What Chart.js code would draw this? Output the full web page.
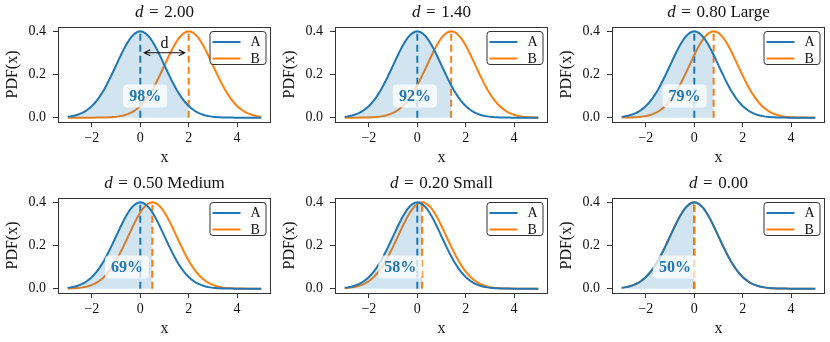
<!DOCTYPE html>
<html><head><meta charset="utf-8">
<script src="https://cdn.jsdelivr.net/npm/chart.js@4.4.1/dist/chart.umd.min.js"></script>
<style>
html,body{margin:0;padding:0;background:#fff;overflow:hidden;}
#wrap{position:relative;width:830px;height:342px;}
.cell{position:absolute;width:276px;height:171px;}
canvas{display:block;}
</style></head><body><div id="wrap"></div>
<script>
// ---- data ----
const effectSizes = [2.00, 1.40, 0.80, 0.50, 0.20, 0.00];
const sizeNames = ['', '', 'Large', 'Medium', 'Small', ''];
const overlapLabels = ['98%', '92%', '79%', '69%', '58%', '50%'];
const seriesNames = ['A', 'B'];
const xTicks = [-2, 0, 2, 4];
const yTicks = [0.0, 0.2, 0.4];
// curve height read at distance 0.0, 0.1, ..., 5.0 from the curve's peak
const densityByDistance = [
  0.3989, 0.3970, 0.3910, 0.3814, 0.3683, 0.3521, 0.3332, 0.3123, 0.2897, 0.2661,
  0.2420, 0.2179, 0.1942, 0.1714, 0.1497, 0.1295, 0.1109, 0.0940, 0.0790, 0.0656,
  0.0540, 0.0440, 0.0355, 0.0283, 0.0224, 0.0175, 0.0136, 0.0104, 0.0079, 0.0060,
  0.0044, 0.0033, 0.0024, 0.0017, 0.0012, 0.0009, 0.0006, 0.0004, 0.0003, 0.0002,
  0.0001, 0.0001, 0.0001, 0.0000, 0.0000, 0.0000, 0.0000, 0.0000, 0.0000, 0.0000, 0.0000];
const xTenthsRange = [-30, 50]; // curves drawn from x = -3 to x = 5 in 0.1 steps

// ---- style ----
const BLUE = '#1f77b4', ORANGE = '#ff7f0e', INK = '#333333';
const SERIF = "'Liberation Serif', 'Times New Roman', serif";

function fmtX(v){ return v < 0 ? '\u2212' + Math.abs(v) : String(v); }

const framePlugin = {
  id: 'frame',
  afterDatasetsDraw(chart, args, opts) {
    const {ctx, chartArea: a, scales: {x, y}} = chart;
    const d = opts.d, idx = opts.idx;
    ctx.save();
    // annotation arrow (first panel)
    if (opts.arrow) {
      const ay = y.getPixelForValue(0.3);
      const x0 = x.getPixelForValue(0) + 4, x1 = x.getPixelForValue(d) - 4;
      ctx.strokeStyle = '#111'; ctx.lineWidth = 1.1;
      ctx.beginPath(); ctx.moveTo(x0, ay); ctx.lineTo(x1, ay);
      ctx.moveTo(x0 + 6, ay - 3); ctx.lineTo(x0, ay); ctx.lineTo(x0 + 6, ay + 3);
      ctx.moveTo(x1 - 6, ay - 3); ctx.lineTo(x1, ay); ctx.lineTo(x1 - 6, ay + 3);
      ctx.stroke();
      ctx.fillStyle = '#111'; ctx.font = '16px ' + SERIF;
      ctx.textAlign = 'center'; ctx.textBaseline = 'alphabetic';
      ctx.fillText('d', x.getPixelForValue(d / 2), ay - 4.5);
    }
    // percentage label
    const lx = x.getPixelForValue(d / 2 - 0.8), ly = y.getPixelForValue(0.1);
    ctx.font = 'bold 16px ' + SERIF;
    const tw = ctx.measureText(overlapLabels[idx]).width;
    const bw = tw + 12, bh = 23;
    ctx.fillStyle = 'rgba(255,255,255,0.75)';
    ctx.beginPath(); ctx.roundRect(lx - bw / 2, ly - bh / 2, bw, bh, 4); ctx.fill();
    ctx.fillStyle = BLUE; ctx.textAlign = 'center'; ctx.textBaseline = 'middle';
    ctx.fillText(overlapLabels[idx], lx, ly + 1);
    ctx.restore();
  },
  afterDraw(chart, args, opts) {
    const {ctx, chartArea: a} = chart;
    ctx.save();
    // axes frame
    ctx.strokeStyle = INK; ctx.lineWidth = 1;
    ctx.strokeRect(Math.round(a.left) + 0.5, Math.round(a.top) + 0.5,
      Math.round(a.right - a.left) - 1, Math.round(a.bottom - a.top));
    // legend
    const bwid = 56, bhei = 33;
    const bl = a.right - 5.5 - bwid, bt = a.top + 4;
    ctx.fillStyle = 'rgba(255,255,255,0.85)';
    ctx.strokeStyle = INK; ctx.lineWidth = 1;
    ctx.beginPath(); ctx.roundRect(bl + 0.5, bt + 0.5, bwid, bhei, 3); ctx.fill(); ctx.stroke();
    const cols = [BLUE, ORANGE];
    ctx.font = '14px ' + SERIF; ctx.textAlign = 'left'; ctx.textBaseline = 'middle';
    seriesNames.forEach((nm, k) => {
      const ry = bt + 11 + k * 16.5;
      ctx.strokeStyle = cols[k]; ctx.lineWidth = 2;
      ctx.beginPath(); ctx.moveTo(bl + 3, ry); ctx.lineTo(bl + 31, ry); ctx.stroke();
      ctx.fillStyle = '#111';
      ctx.fillText(nm, bl + 41, ry + 0.5);
    });
    // title with italic d
    const cx = (a.left + a.right) / 2, ty = 13;
    const rest = effectSizes[opts.idx].toFixed(2) + (sizeNames[opts.idx] ? ' ' + sizeNames[opts.idx] : '');
    ctx.fillStyle = '#111'; ctx.textBaseline = 'middle';
    ctx.font = 'italic 17px ' + SERIF; const w1 = ctx.measureText('d').width;
    ctx.font = '17px ' + SERIF; const w2 = ctx.measureText('=').width, w3 = ctx.measureText(rest).width;
    const gap = 5.5;
    let sx = cx - (w1 + w2 + w3 + 2 * gap) / 2;
    ctx.textAlign = 'left';
    ctx.font = 'italic 17px ' + SERIF; ctx.fillText('d', sx, ty); sx += w1 + gap;
    ctx.font = '17px ' + SERIF; ctx.fillText('=', sx, ty); sx += w2 + gap;
    ctx.fillText(rest, sx, ty);
    ctx.restore();
  }
};

const wrap = document.getElementById('wrap');
effectSizes.forEach((d, idx) => {
  const col = idx % 3, row = Math.floor(idx / 3);
  const cell = document.createElement('div');
  cell.className = 'cell';
  cell.style.left = (col * 277) + 'px';
  cell.style.top = (row * 171) + 'px';
  const cv = document.createElement('canvas');
  cv.width = 276; cv.height = 171;
  cell.appendChild(cv); wrap.appendChild(cell);

  const dT = Math.round(d * 10);
  const tenths = [];
  for (let t = xTenthsRange[0]; t <= xTenthsRange[1]; t++) tenths.push(t);
  const curveA = tenths.map(t => ({x: t / 10, y: densityByDistance[Math.abs(t)]}));
  const curveB = tenths.map(t => ({x: t / 10, y: densityByDistance[Math.abs(t - dT)]}));
  const shade = curveA.filter((p, k) => tenths[k] <= dT);
  const peak = densityByDistance[0];

  new Chart(cv, {
    type: 'line',
    data: {
      datasets: [
        {data: shade, fill: 'origin', backgroundColor: 'rgba(31,119,180,0.2)',
         borderColor: 'rgba(0,0,0,0)', borderWidth: 0, pointRadius: 0},
        {label: seriesNames[0], data: curveA, borderColor: BLUE, borderWidth: 2, pointRadius: 0, fill: false},
        {label: seriesNames[1], data: curveB, borderColor: ORANGE, borderWidth: 2, pointRadius: 0, fill: false},
        {data: [{x: d, y: 0}, {x: d, y: peak}], borderColor: ORANGE, borderWidth: 2,
         borderDash: [7, 4], pointRadius: 0, fill: false},
        {data: [{x: 0, y: 0}, {x: 0, y: peak}], borderColor: BLUE, borderWidth: 2,
         borderDash: [7, 4], pointRadius: 0, fill: false}
      ]
    },
    options: {
      responsive: false, animation: false, devicePixelRatio: 1,
      layout: {padding: {top: 27, right: 5, bottom: 0, left: 0}},
      plugins: {legend: {display: false}, tooltip: {enabled: false},
        frame: {d: d, idx: idx, arrow: idx === 0}},
      scales: {
        x: {type: 'linear', min: -3.4, max: 5.4,
          afterBuildTicks: s => { s.ticks = xTicks.map(v => ({value: v})); },
          afterFit: s => { s.height = 49; },
          grid: {display: true, drawOnChartArea: false, drawTicks: true, tickLength: 5, color: INK},
          border: {display: false},
          ticks: {color: '#111', font: {family: SERIF, size: 14}, padding: 3, maxRotation: 0,
            callback: v => fmtX(v)},
          title: {display: true, text: 'x', color: '#111', font: {family: SERIF, size: 16},
            padding: {top: 0, bottom: 4}}
        },
        y: {type: 'linear', min: -0.02, max: 0.419,
          afterBuildTicks: s => { s.ticks = yTicks.map(v => ({value: v})); },
          afterFit: s => { s.width = 58; },
          grid: {display: true, drawOnChartArea: false, drawTicks: true, tickLength: 5, color: INK},
          border: {display: false},
          ticks: {color: '#111', font: {family: SERIF, size: 14}, padding: 7,
            callback: v => v.toFixed(1)},
          title: {display: true, text: 'PDF(x)', color: '#111', font: {family: SERIF, size: 16},
            padding: {top: 3, bottom: 0}}
        }
      }
    },
    plugins: [framePlugin]
  });
});
</script></body></html>
